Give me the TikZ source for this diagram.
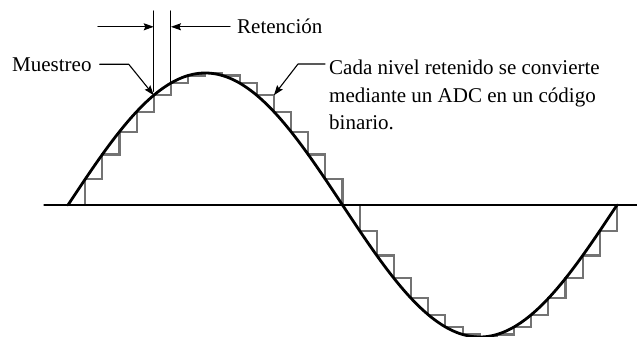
\documentclass[tikz,border=0pt]{standalone}
\usepackage{fontspec}
\setmainfont{Liberation Serif}
\usetikzlibrary{arrows.meta}
\begin{document}
\begin{tikzpicture}[x=1pt,y=-1pt,line join=round,line cap=round,>={Stealth[length=10pt,width=7pt,inset=1.5pt]},
		lbl/.style={font=\fontsize{21}{27.5}\selectfont,inner sep=0pt},
		lead/.style={line width=1.1pt},
		hold/.style={line width=2.1pt,black!55,line join=miter,line cap=rect}]
	\useasboundingbox (0,0) rectangle (637,337);
	\def\dx{17.15625}
	\path
	(44,205) coordinate (o1)
	(637,205) coordinate (o2)
	(98,0) coordinate (r0)
	({68+5*\dx},11) coordinate (t5)
	({68+6*\dx},11) coordinate (t6)
	({68+5*\dx},{205-132*sin(56.25)}) coordinate (s5)
	({68+6*\dx},{205-132*sin(67.5)}) coordinate (s6)
	({68+12*\dx},{205-132*sin(123.75)}) coordinate (h12);
	% sample and hold
	\draw[hold] (68,205) \foreach \k in {1,...,32}{ -| ({68+\k*\dx},{205-132*sin(\k*11.25)}) };
	\draw[line width=1.2pt] (o1)--(o2);
	\draw[line width=2.8pt] plot[domain=0:360,samples=121,smooth] ({68+\x*1.525},{205-132*sin(\x)});
	% labels
	\node[lbl,anchor=base west] (ret) at (237,34) {Retención};
	\node[lbl,anchor=base west] (mue) at (12,71) {Muestreo};
	\node[lbl,anchor=north west,align=left] (cada) at (329,60) {Cada nivel retenido se convierte\\mediante un ADC en un código\\binario.};
	\draw[lead] (t5)--([yshift=4pt]s5);
	\draw[lead] (t6)--([yshift=1pt]s6);
	\draw[lead,->] (ret.west -| r0)--(ret.west -| t5);
	\draw[lead,->] ([xshift=-7pt]ret.west)--(ret.west -| t6);
	\draw[lead,->] ([xshift=8pt]mue.east)--++(29,0)--(s5);
	\draw[lead,->] ([xshift=-4pt,yshift=-4pt]cada.north west)--++(-27,0)--(h12);
\end{tikzpicture}
\end{document}
